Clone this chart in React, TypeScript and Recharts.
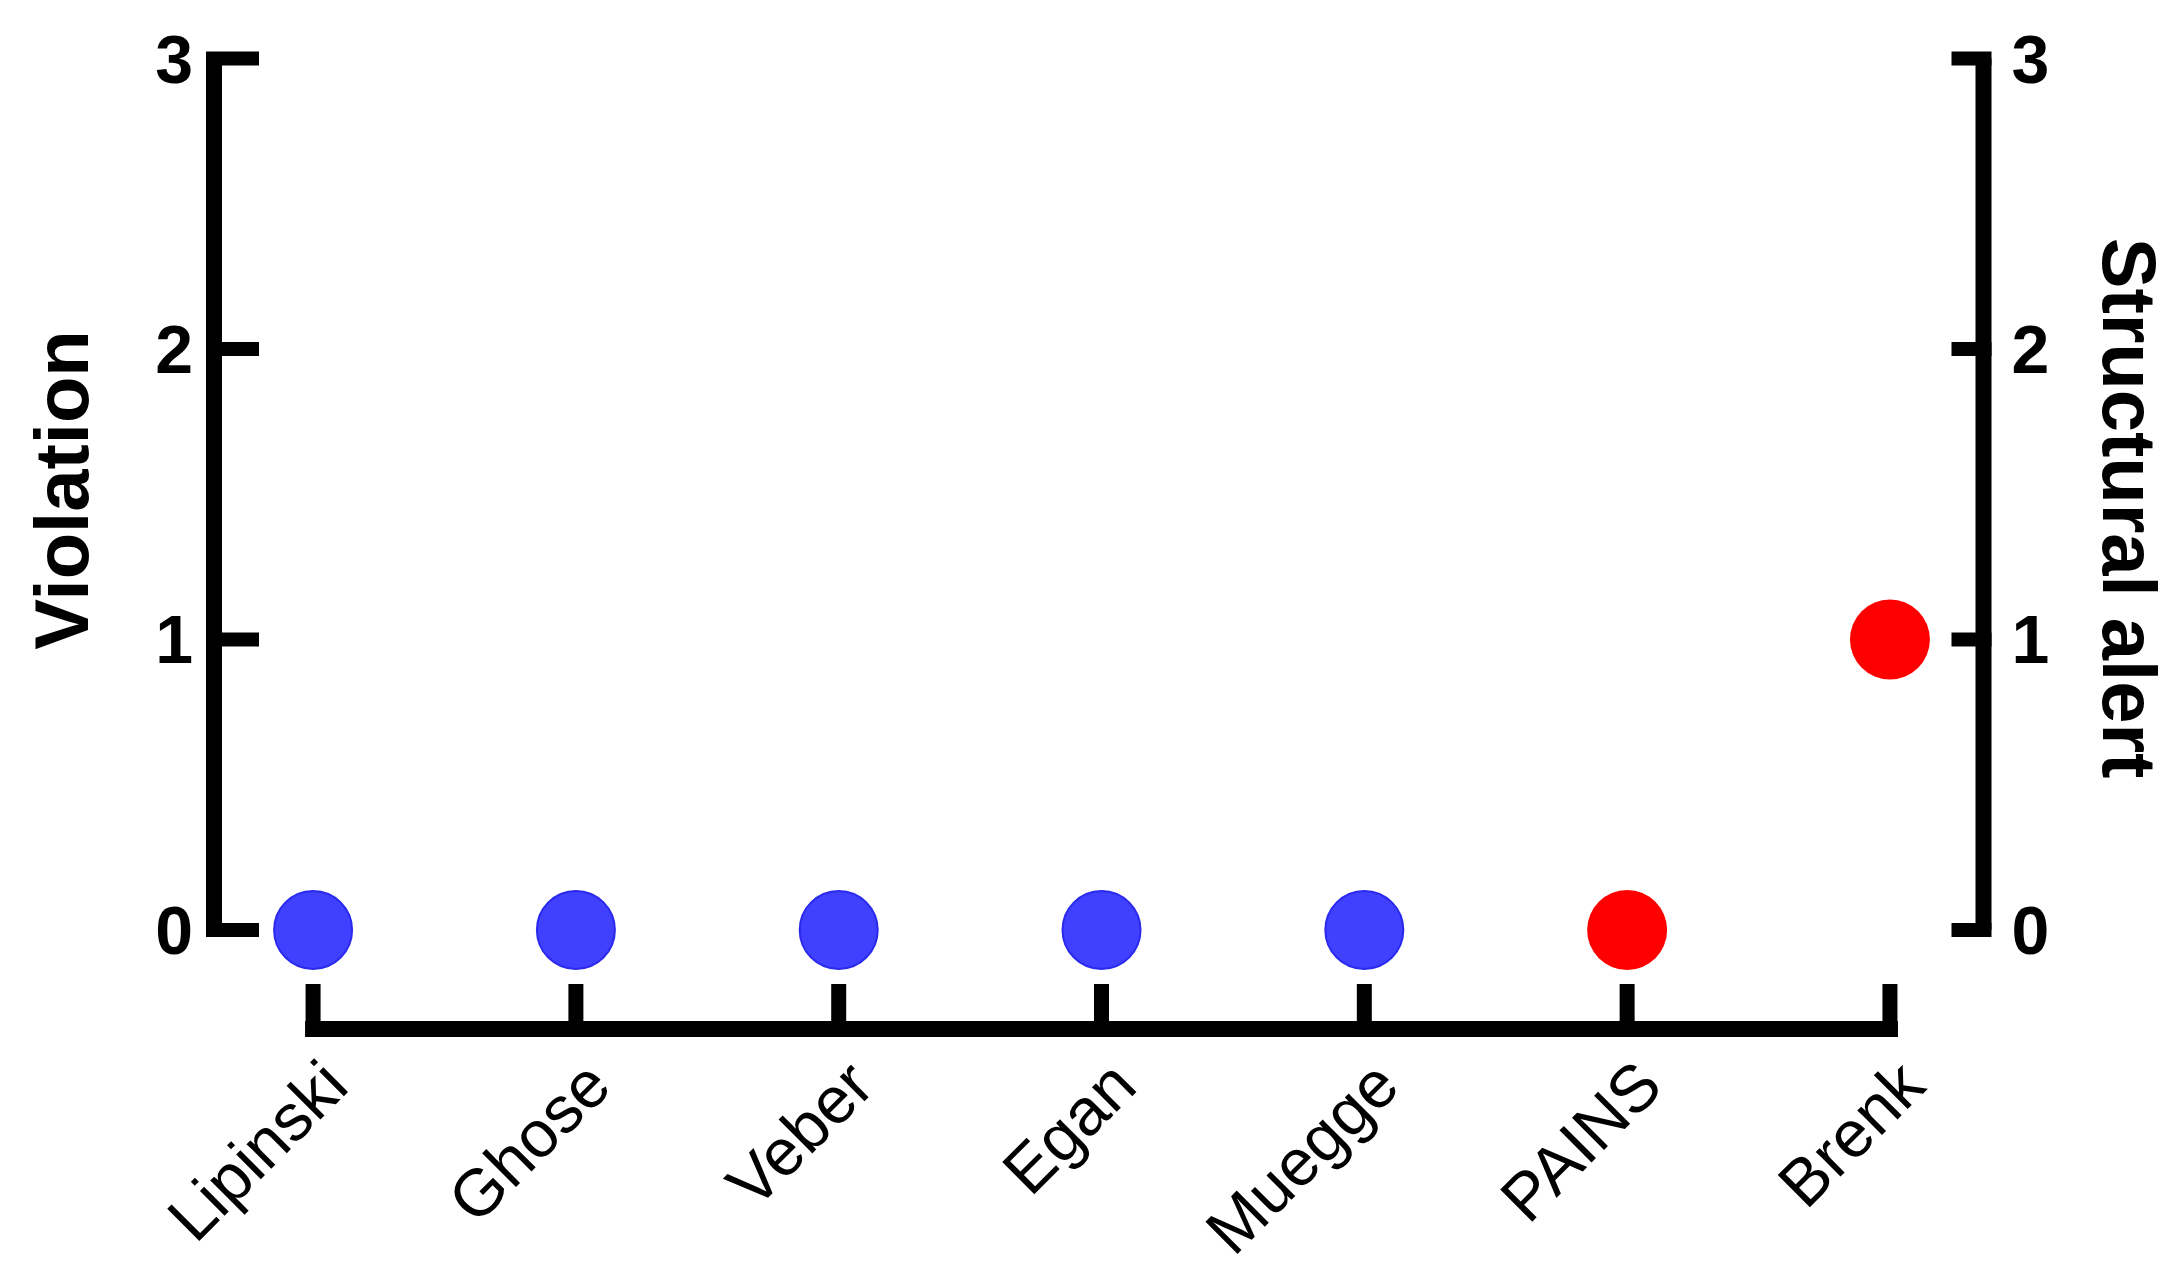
import { ScatterChart, Scatter, XAxis, YAxis, ReferenceLine, Label } from "recharts";

const CATEGORIES = ["Lipinski", "Ghose", "Veber", "Egan", "Muegge", "PAINS", "Brenk"];

// left axis: drug-likeness rule violations
const VIOLATION_RULES = ["Lipinski", "Ghose", "Veber", "Egan", "Muegge"];
const VIOLATIONS = [0, 0, 0, 0, 0];

// right axis: medicinal chemistry structural alerts
const ALERT_RULES = ["PAINS", "Brenk"];
const ALERTS = [0, 1];

const Y_TICKS = [0, 1, 2, 3];
const X_TICKS = CATEGORIES.map((_, i) => i);

// axis extents so the offset (Prism-style) axes land where the original has them
const X_MIN = -0.377;
const X_MAX = 6.356;
const Y_MIN = -0.341;

const FONT = '"Liberation Sans", Arial, Helvetica, sans-serif';
const AXIS_W = 16;
const TICK_W = 14;

const violationData = VIOLATION_RULES.map((name, i) => ({
  name,
  x: CATEGORIES.indexOf(name),
  y: VIOLATIONS[i],
}));
const alertData = ALERT_RULES.map((name, i) => ({
  name,
  x: CATEGORIES.indexOf(name),
  y: ALERTS[i],
}));

function LeftTick(p: any) {
  return (
    <g>
      <line x1={p.x - 8} y1={p.y} x2={p.x + 45} y2={p.y} stroke="#000" strokeWidth={TICK_W} />
      <text
        x={p.x - 21}
        y={p.y + 24}
        textAnchor="end"
        fontFamily={FONT}
        fontWeight="bold"
        fontSize={68}
        fill="#000"
      >
        {p.payload.value}
      </text>
    </g>
  );
}

function RightTick(p: any) {
  return (
    <g>
      <line x1={p.x + 8} y1={p.y} x2={p.x - 32} y2={p.y} stroke="#000" strokeWidth={TICK_W} />
      <text
        x={p.x + 28}
        y={p.y + 24}
        textAnchor="start"
        fontFamily={FONT}
        fontWeight="bold"
        fontSize={68}
        fill="#000"
      >
        {p.payload.value}
      </text>
    </g>
  );
}

function BottomTick(p: any) {
  const tx = p.x + 38;
  const ty = p.y + 60;
  return (
    <g>
      <line x1={p.x} y1={p.y + 8} x2={p.x} y2={p.y - 45} stroke="#000" strokeWidth={15} />
      <text
        x={tx}
        y={ty}
        textAnchor="end"
        transform={`rotate(-45, ${tx}, ${ty})`}
        fontFamily={FONT}
        fontSize={66}
        fill="#000"
      >
        {CATEGORIES[p.payload.value]}
      </text>
    </g>
  );
}

function BlueDot(p: any) {
  return <circle cx={p.cx} cy={p.cy} r={39} fill="#4040ff" stroke="#2a2aee" strokeWidth={2} />;
}

function RedDot(p: any) {
  return <circle cx={p.cx} cy={p.cy} r={40} fill="#ff0000" />;
}

export default function App() {
  return (
    <div style={{ position: "absolute", left: 0, top: 0, background: "#fff" }}>
      <ScatterChart
        width={2182}
        height={1269}
        margin={{ top: 58.5, left: 114, right: 98.5, bottom: 180 }}
      >
        <XAxis
          type="number"
          dataKey="x"
          domain={[X_MIN, X_MAX]}
          allowDataOverflow
          ticks={X_TICKS}
          interval={0}
          height={60}
          axisLine={false}
          tickLine={false}
          tickSize={0}
          tickMargin={0}
          tick={BottomTick}
        />
        <YAxis
          yAxisId="left"
          type="number"
          dataKey="y"
          orientation="left"
          domain={[Y_MIN, 3]}
          allowDataOverflow
          ticks={Y_TICKS}
          interval={0}
          width={100}
          axisLine={false}
          tickLine={false}
          tickSize={0}
          tickMargin={0}
          tick={LeftTick}
        >
          <Label
            content={(props: any) => {
              const vb = props.viewBox;
              const x = vb.x - 26;
              const y = 490;
              return (
                <text
                  x={x}
                  y={y}
                  textAnchor="middle"
                  transform={`rotate(-90, ${x}, ${y})`}
                  fontFamily={FONT}
                  fontWeight="bold"
                  fontSize={76}
                  fill="#000"
                >
                  Violation
                </text>
              );
            }}
          />
        </YAxis>
        <YAxis
          yAxisId="right"
          type="number"
          dataKey="y"
          orientation="right"
          domain={[Y_MIN, 3]}
          allowDataOverflow
          ticks={Y_TICKS}
          interval={0}
          width={100}
          axisLine={false}
          tickLine={false}
          tickSize={0}
          tickMargin={0}
          tick={RightTick}
        >
          <Label
            content={(props: any) => {
              const vb = props.viewBox;
              const x = vb.x + 119;
              const y = 508;
              return (
                <text
                  x={x}
                  y={y}
                  textAnchor="middle"
                  transform={`rotate(90, ${x}, ${y})`}
                  fontFamily={FONT}
                  fontWeight="bold"
                  fontSize={76}
                  fill="#000"
                >
                  Structural alert
                </text>
              );
            }}
          />
        </YAxis>

        <ReferenceLine
          yAxisId="left"
          segment={[{ x: X_MIN, y: 0 }, { x: X_MIN, y: 3 }]}
          stroke="#000"
          strokeWidth={AXIS_W}
          ifOverflow="visible"
        />
        <ReferenceLine
          yAxisId="right"
          segment={[{ x: X_MAX, y: 0 }, { x: X_MAX, y: 3 }]}
          stroke="#000"
          strokeWidth={AXIS_W}
          ifOverflow="visible"
        />
        <ReferenceLine
          yAxisId="left"
          segment={[{ x: 0, y: Y_MIN }, { x: CATEGORIES.length - 1, y: Y_MIN }]}
          stroke="#000"
          strokeWidth={AXIS_W}
          strokeLinecap="square"
          ifOverflow="visible"
        />

        <Scatter
          yAxisId="left"
          data={violationData}
          shape={BlueDot}
          isAnimationActive={false}
        />
        <Scatter
          yAxisId="right"
          data={alertData}
          shape={RedDot}
          isAnimationActive={false}
        />
      </ScatterChart>
    </div>
  );
}
